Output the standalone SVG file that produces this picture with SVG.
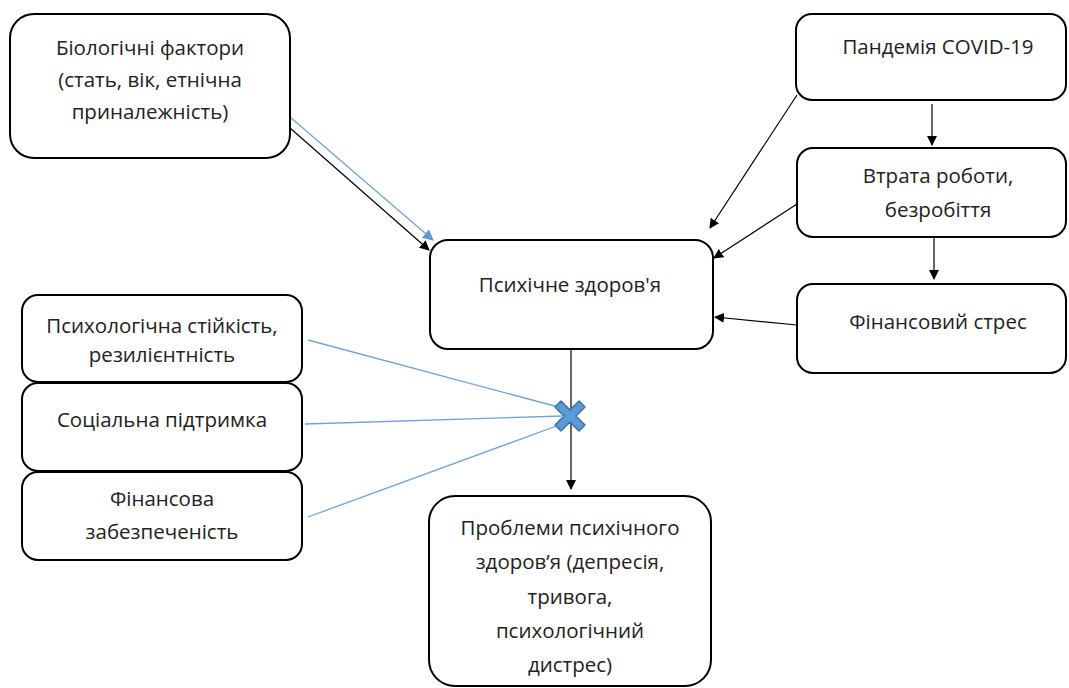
<svg xmlns="http://www.w3.org/2000/svg" width="1069" height="688" viewBox="0 0 1069 688">
<style>
.box{fill:#fff;stroke:#000;stroke-width:2}
.t{font-family:"Open Sans","Noto Sans",sans-serif;font-size:20.5px;fill:#222;text-anchor:middle}
.c{fill:none;stroke:#000;stroke-width:1.2}
.b{fill:none;stroke:#6fa3d6;stroke-width:1.3}
</style>
<defs>
<marker id="ah" markerWidth="10" markerHeight="10" refX="9" refY="5" orient="auto" markerUnits="userSpaceOnUse" viewBox="0 0 10 10">
<path d="M0,0 L10,5 L0,10 Z" fill="#000"/>
</marker>
<marker id="ahb" markerWidth="11" markerHeight="11" refX="10" refY="5.5" orient="auto" markerUnits="userSpaceOnUse" viewBox="0 0 11 11">
<path d="M0,0 L11,5.5 L0,11 Z" fill="#5b9bd5"/>
</marker>
</defs>
<rect width="1069" height="688" fill="#fff"/>
<g id="connectors">
<line class="c" x1="290" y1="128" x2="429" y2="250" marker-end="url(#ah)"/>
<line class="b" x1="290" y1="117" x2="433" y2="240" marker-end="url(#ahb)"/>
<line class="c" x1="797" y1="95" x2="710" y2="228" marker-end="url(#ah)"/>
<line class="c" x1="797" y1="204" x2="714" y2="258" marker-end="url(#ah)"/>
<line class="c" x1="797" y1="325" x2="715" y2="317" marker-end="url(#ah)"/>
<line class="c" x1="932" y1="104" x2="932" y2="145" marker-end="url(#ah)"/>
<line class="c" x1="934" y1="238" x2="934" y2="279" marker-end="url(#ah)"/>
<line class="c" x1="571" y1="350" x2="571" y2="489" marker-end="url(#ah)"/>
<line class="b" x1="308" y1="340" x2="562" y2="408"/>
<line class="b" x1="305" y1="424" x2="562" y2="416"/>
<line class="b" x1="308" y1="517" x2="562" y2="424"/>
<polygon transform="translate(570,416)" points="-15,-9 -9,-15 0,-6 9,-15 15,-9 6,0 15,9 9,15 0,6 -9,15 -15,9 -6,0" fill="#5b9bd5" stroke="#41719c" stroke-width="1.5" stroke-linejoin="round"/>
</g>
<g id="bio">
<rect class="box" x="10" y="14" width="280" height="144" rx="24"/>
<text class="t" x="150" y="55">Біологічні фактори</text>
<text class="t" x="150" y="87">(стать, вік, етнічна</text>
<text class="t" x="150" y="119">приналежність)</text>
</g>
<g id="pandemic">
<rect class="box" x="796" y="14" width="270" height="86" rx="16"/>
<text class="t" x="938" y="54">Пандемія COVID-19</text>
</g>
<g id="jobloss">
<rect class="box" x="797" y="148" width="269" height="89" rx="16"/>
<text class="t" x="938" y="183">Втрата роботи,</text>
<text class="t" x="938" y="217">безробіття</text>
</g>
<g id="finstress">
<rect class="box" x="797" y="284" width="269" height="89" rx="16"/>
<text class="t" x="938" y="329">Фінансовий стрес</text>
</g>
<g id="mental">
<rect class="box" x="430" y="240" width="283" height="109" rx="18"/>
<text class="t" x="570" y="292">Психічне здоров'я</text>
</g>
<g id="resilience">
<rect class="box" x="22" y="295" width="280" height="87" rx="16"/>
<text class="t" x="162" y="333">Психологічна стійкість,</text>
<text class="t" x="162" y="362">резилієнтність</text>
</g>
<g id="social">
<rect class="box" x="22" y="383" width="280" height="88" rx="16"/>
<text class="t" x="162" y="427">Соціальна підтримка</text>
</g>
<g id="finsec">
<rect class="box" x="22" y="472" width="280" height="88" rx="16"/>
<text class="t" x="162" y="506">Фінансова</text>
<text class="t" x="162" y="539">забезпеченість</text>
</g>
<g id="problems">
<rect class="box" x="429" y="496" width="282" height="190" rx="26"/>
<text class="t" x="570" y="535">Проблеми психічного</text>
<text class="t" x="570" y="569">здоров’я (депресія,</text>
<text class="t" x="570" y="604">тривога,</text>
<text class="t" x="570" y="638">психологічний</text>
<text class="t" x="570" y="672">дистрес)</text>
</g>
</svg>
